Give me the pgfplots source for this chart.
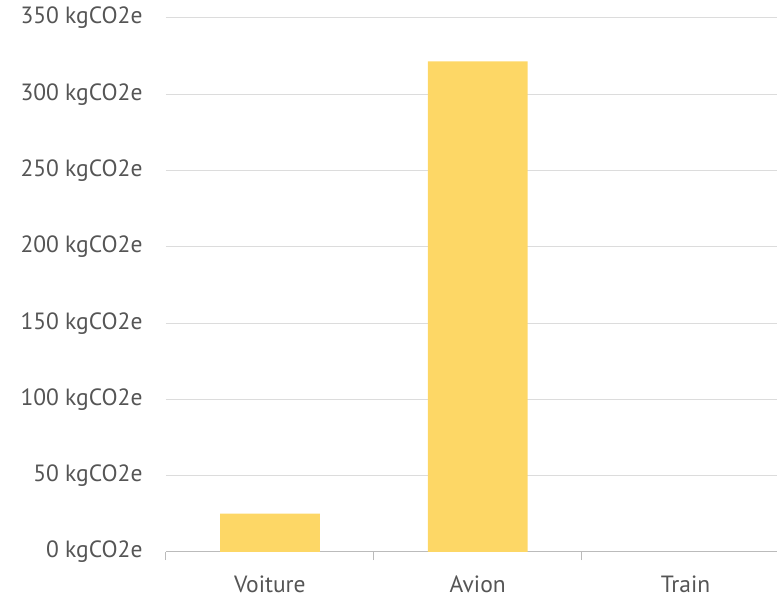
\documentclass[border=0pt]{standalone}
\usepackage{pgfplots}
\pgfplotsset{compat=1.18}
\usepackage{fontspec}
\setmainfont{PT Sans}
\definecolor{barc}{HTML}{FDD766}
\definecolor{gridc}{HTML}{DCDCDC}
\definecolor{txt}{HTML}{555555}
\begin{document}
\begin{tikzpicture}
\begin{axis}[
  name=ax,
  scale only axis,
  width=611pt, height=534pt,
  xmin=-0.5, xmax=2.44,
  ymin=0, ymax=350,
  ytick={0,50,...,350},
  yticklabel={\pgfmathprintnumber{\tick} kgCO2e},
  /pgf/number format/assume math mode=true,
  ymajorgrids,
  grid style={gridc, line width=1pt},
  axis x line*=bottom,
  axis y line*=left,
  y axis line style={draw=none},
  x axis line style={gridc!85!black, line width=1pt},
  xtick={0,1,2},
  xticklabels={Voiture,Avion,Train},
  minor xtick={-0.5,0.5,1.5},
  major tick length=0pt,
  minor tick length=8pt,
  tick align=outside,
  minor tick style={gridc!85!black, line width=1pt},
  tick label style={font=\fontsize{23.5}{26}\selectfont, text=txt},
  y tick label style={xshift=-20pt},
  x tick label style={inner sep=0pt, yshift=-24pt},
  clip=false,
]
\addplot[ybar, bar width=0.48, fill=barc, draw=none] coordinates {(0,25.2) (1,321.6)};
\end{axis}
\pgfresetboundingbox
\path[use as bounding box] ([xshift=-166pt,yshift=-45pt]ax.south west) rectangle ([yshift=18pt]ax.north east);
\end{tikzpicture}
\end{document}
